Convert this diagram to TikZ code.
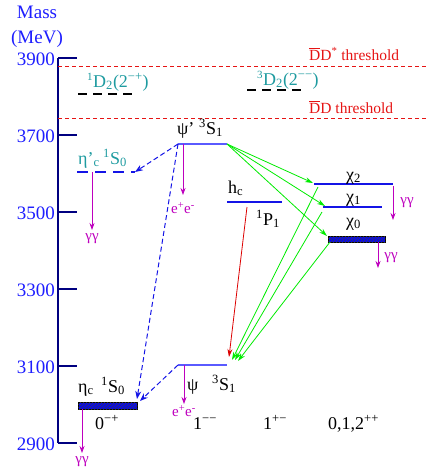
\documentclass[tikz,border=0pt]{standalone}
\usepackage{fontspec}
\setmainfont{Liberation Serif}
\usetikzlibrary{arrows.meta,patterns}
\definecolor{axisblue}{RGB}{0,0,128}
\definecolor{labblue}{RGB}{30,30,255}
\definecolor{lvlblue}{RGB}{20,20,230}
\definecolor{ltblue}{RGB}{90,90,255}
\definecolor{tealc}{RGB}{30,155,160}
\definecolor{mag}{RGB}{190,0,190}
\definecolor{grn}{RGB}{0,235,0}
\definecolor{thr}{RGB}{230,20,20}
\definecolor{redarr}{RGB}{220,0,0}
\tikzset{
  lbl/.style={font=\fontsize{18}{20}\selectfont, inner sep=0pt, anchor=base west},
  axlbl/.style={font=\fontsize{19}{21}\selectfont, text=labblue, inner sep=0pt, anchor=east},
  axline/.style={axisblue, line width=2.4pt},
  thrline/.style={thr, line width=0.8pt, dash pattern=on 4pt off 3pt},
  thrlbl/.style={font=\fontsize{15.5}{17}\selectfont, text=thr, inner sep=0pt, anchor=base west},
  decay/.style={mag, line width=0.8pt, -{Stealth[length=7pt,width=5pt]}},
  decaylbl/.style={font=\fontsize{15}{16}\selectfont, text=mag, inner sep=0pt},
  level/.style={lvlblue, line width=2.2pt},
  lightlevel/.style={ltblue, line width=1.6pt},
  dlevel/.style={black, line width=1.8pt, dash pattern=on 9pt off 6pt},
  dblevel/.style={lvlblue, line width=2.8pt, dash pattern=on 11pt off 7pt},
  hatchbox/.style={draw=black, line width=0.6pt, fill=blue, inner sep=0pt,
     postaction={pattern=north east lines, pattern color=black!75}},
  bluedash/.style={lvlblue, line width=1pt, dash pattern=on 5pt off 3pt, -{Stealth[length=8pt,width=6pt]}},
  gtrans/.style={grn, line width=0.8pt, -{Stealth[length=8pt,width=5pt]}},
  rtrans/.style={redarr, line width=0.8pt, -{Stealth[length=8pt,width=5pt]}},
}
\begin{document}
\begin{tikzpicture}[x=1pt,y=-1pt]
\useasboundingbox (0,0) rectangle (427,471);
% axis
\node[font=\fontsize{19}{21}\selectfont, text=labblue, inner sep=0pt, anchor=base] (mass) at (37,18) {Mass};
\node[font=\fontsize{19}{21}\selectfont, text=labblue, inner sep=0pt, anchor=base] (mev) at (37,43) {(MeV)};
\coordinate (axtop) at (58,58);
\coordinate (axbot) at (58,443);
\draw[axline] (axtop) -- (axbot);
\foreach \m/\yy in {3900/58,3700/135,3500/212,3300/289,3100/366,2900/443}{
  \coordinate (t\m) at (58,\yy);
  \coordinate (te\m) at (77,\yy);
  \draw[axline] (t\m) -- (te\m);
  \node[axlbl] (l\m) at (55,\yy+1.5) {\m};
}
% thresholds
\coordinate (ts1) at (58,66); \coordinate (te1) at (427,66);
\coordinate (ts2) at (58,118); \coordinate (te2) at (427,118);
\draw[thrline] (ts1) -- (te1);
\draw[thrline] (ts2) -- (te2);
\node[thrlbl] (dds) at (309,60) {$\overline{\mbox{D}}$D\textsuperscript{*} threshold};
\node[thrlbl] (dd) at (309,113) {$\overline{\mbox{D}}$D threshold};
% D-wave states
\coordinate (D1L) at (78,94); \coordinate (D1R) at (137,94);
\draw[dlevel] (D1L) -- (D1R);
\node[lbl, text=tealc] (D1lab) at (87,87) {\textsuperscript{\fontsize{11}{12}\selectfont 1}D\textsubscript{2}(2\textsuperscript{−+})};
\coordinate (D3L) at (247,90); \coordinate (D3R) at (306,90);
\draw[dlevel] (D3L) -- (D3R);
\node[lbl, text=tealc] (D3lab) at (257,85) {\textsuperscript{\fontsize{11}{12}\selectfont 3}D\textsubscript{2}(2\textsuperscript{−−})};
% psi'
\coordinate (psipL) at (178,144); \coordinate (psipR) at (227,144);
\draw[lightlevel] (psipL) -- (psipR);
\node[lbl] (psiplab) at (177,134) {ψ’};
\node[lbl] (psipsp) at (199,134) {\textsuperscript{3}S\textsubscript{1}};
% eta_c'
\coordinate (etacpL) at (77,172); \coordinate (etacpR) at (135,172);
\draw[dblevel] (etacpL) -- (etacpR);
\node[lbl, text=tealc] (etacplab) at (78,164) {η’\textsubscript{c}};
\node[lbl, text=tealc] (etacpsp) at (103,164) {\textsuperscript{1}S\textsubscript{0}};
% h_c
\coordinate (hcL) at (227,202); \coordinate (hcR) at (282,202);
\draw[level] (hcL) -- (hcR);
\node[lbl] (hclab) at (228,193) {h\textsubscript{c}};
\node[lbl] (hcsp) at (256,225) {\textsuperscript{1}P\textsubscript{1}};
% chi states
\coordinate (chi2L) at (314,184); \coordinate (chi2R) at (393,184);
\draw[level] (chi2L) -- (chi2R);
\node[lbl] (chi2lab) at (346,180) {χ\textsubscript{2}};
\coordinate (chi1L) at (323,207); \coordinate (chi1R) at (382,207);
\draw[level] (chi1L) -- (chi1R);
\node[lbl] (chi1lab) at (346,202) {χ\textsubscript{1}};
\node[hatchbox, minimum width=57pt, minimum height=6pt, anchor=north west] (chi0) at (328,236) {};
\node[lbl] (chi0lab) at (346,226) {χ\textsubscript{0}};
% J/psi
\coordinate (jpsiL) at (178,365); \coordinate (jpsiR) at (227,365);
\draw[lightlevel] (jpsiL) -- (jpsiR);
\node[lbl] (jpsilab) at (187,390) {ψ};
\node[lbl] (jpsisp) at (212,390) {\textsuperscript{3}S\textsubscript{1}};
% eta_c
\node[hatchbox, minimum width=59pt, minimum height=7pt, anchor=north west] (etac) at (78,402) {};
\node[lbl] (etaclab) at (78,392) {η\textsubscript{c}};
\node[lbl] (etacsp) at (101,392) {\textsuperscript{1}S\textsubscript{0}};
% JPC labels
\node[lbl] (jpc1) at (95,429) {0\textsuperscript{−+}};
\node[lbl] (jpc2) at (193,429) {1\textsuperscript{−−}};
\node[lbl] (jpc3) at (263,429) {1\textsuperscript{+−}};
\node[lbl] (jpc4) at (328,429) {0,1,2\textsuperscript{++}};
% blue dashed transitions
\coordinate (etacTop) at (137,399);
\coordinate (etacTop2) at (140,401);
\draw[bluedash] (psipL) -- (etacpR);
\draw[bluedash] (psipL) -- (etacTop);
\draw[bluedash] (jpsiL) -- (etacTop2);
% green transitions psi' -> chi
\coordinate (g2e) at (313,183);
\coordinate (g1e) at (325,206);
\coordinate (g0e) at (327,236);
\draw[gtrans] (psipR) -- (g2e);
\draw[gtrans] (psipR) -- (g1e);
\draw[gtrans] (psipR) -- (g0e);
% green transitions chi -> J/psi
\coordinate (c2s) at (318,187); \coordinate (j2) at (232,360);
\coordinate (c1s) at (322,212); \coordinate (j1) at (235,360);
\coordinate (c0s) at (330,242); \coordinate (j0) at (238,361);
\draw[gtrans] (c2s) -- (j2);
\draw[gtrans] (c1s) -- (j1);
\draw[gtrans] (c0s) -- (j0);
% red transition h_c -> J/psi
\coordinate (hcs) at (247,207); \coordinate (hce) at (229,357);
\draw[rtrans] (hcs) -- (hce);
% decays
\coordinate (a1s) at (92,172); \coordinate (a1e) at (92,230);
\draw[decay] (a1s) -- (a1e);
\node[decaylbl] (gg1) at (92,239) {γγ};
\coordinate (a2s) at (183,144); \coordinate (a2e) at (183,195);
\draw[decay] (a2s) -- (a2e);
\node[decaylbl] (ee1) at (183,208) {e\textsuperscript{+}e\textsuperscript{-}};
\coordinate (a3s) at (82,409); \coordinate (a3e) at (82,453);
\draw[decay] (a3s) -- (a3e);
\node[decaylbl] (gg2) at (82,462) {γγ};
\coordinate (a4s) at (184,365); \coordinate (a4e) at (184,404);
\draw[decay] (a4s) -- (a4e);
\node[decaylbl] (ee2) at (184,411) {e\textsuperscript{+}e\textsuperscript{-}};
\coordinate (a5s) at (393,186); \coordinate (a5e) at (393,220);
\draw[decay] (a5s) -- (a5e);
\node[decaylbl] (gg3) at (407,203) {γγ};
\coordinate (a6s) at (378,242); \coordinate (a6e) at (378,268);
\draw[decay] (a6s) -- (a6e);
\node[decaylbl] (gg4) at (391,258) {γγ};
\end{tikzpicture}
\end{document}
